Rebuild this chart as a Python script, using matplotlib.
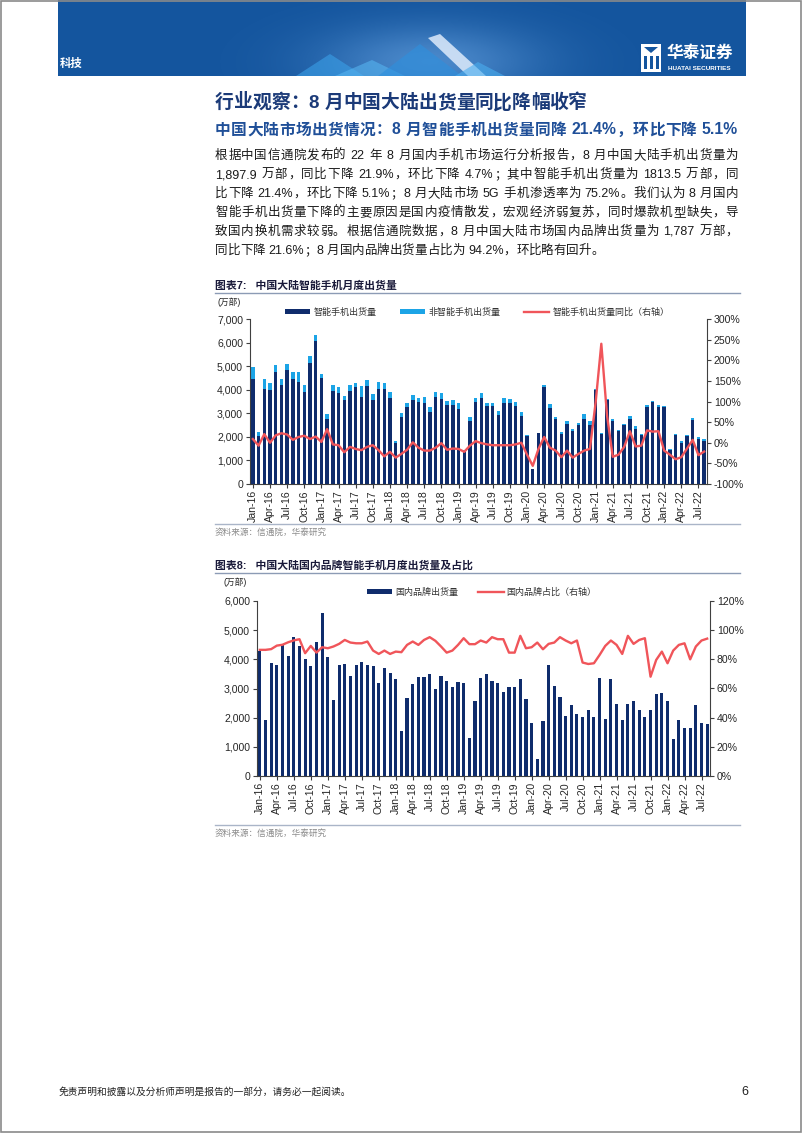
import re
import numpy as np
import pandas as pd
import matplotlib
matplotlib.use('Agg')
import matplotlib.pyplot as plt
from matplotlib.patches import Rectangle, Polygon
from matplotlib.ticker import FuncFormatter, FixedLocator

# ---------------- data ----------------
months = pd.date_range('2016-01-01', '2022-08-01', freq='MS').strftime('%b-%y').tolist()

smart_ship = [4470, 2050, 4050, 3980, 4750, 4200, 4820, 4450, 4320, 3900, 5150, 6050,
              4500, 2760, 3950, 3870, 3560, 3940, 4100, 3700, 4150, 3580, 4030, 4030,
              3630, 1760, 2830, 3260, 3580, 3470, 3440, 3070, 3680, 3610, 3340, 3370,
              3200, 1400, 2670, 3470, 3640, 3330, 3300, 2940, 3440, 3440, 3330, 2900,
              2020, 630, 2150, 4100, 3210, 2760, 2130, 2560, 2230, 2500, 2760, 2500,
              3980, 2130, 3570, 2690, 2260, 2500, 2760, 2350, 2080, 3270, 3490, 3260,
              3260, 1450, 2080, 1760, 2020, 2730, 1910, 1813.5]
nonsmart_ship = [480, 170, 420, 290, 280, 240, 270, 320, 450, 320, 290, 260,
                 180, 190, 250, 230, 170, 260, 200, 440, 260, 250, 290, 240,
                 270, 60, 190, 170, 200, 190, 260, 190, 220, 240, 200, 210,
                 230, 40, 170, 190, 210, 110, 130, 150, 190, 160, 150, 160,
                 60, 20, 30, 80, 180, 80, 90, 100, 90, 100, 190, 160,
                 30, 30, 40, 70, 40, 50, 110, 100, 50, 90, 40, 80,
                 40, 30, 50, 50, 60, 60, 80, 84.4]
smart_yoy = [9, -7, 21, 0, 18, 23, 20, 7, 14, 17, 9, 15,
             2, 33, -4, -6, -23, -10, -15, -18, -10, -6, -18, -33,
             -22, -36, -27, -17, 1, -12, -19, -19, -12, -1, -17, -14,
             -15, -22, -7, 4, -1, -4, -6, -6, -6, -6, -4, 0,
             -29, -56, -15, 14, -12, -19, -35, -19, -36, -27, -19, -15,
             97, 240, 66, -34, -29, -10, 28, -9, -7, 30, 27, 28,
             -19, -29, -40, -35, -14, 7, -30, -21.4]

domestic_ship = [4270, 1920, 3880, 3820, 4530, 4110, 4760, 4460, 4000, 3760, 4600, 5590,
                 4070, 2610, 3800, 3840, 3420, 3800, 3910, 3810, 3780, 3180, 3710, 3540,
                 3340, 1530, 2680, 3150, 3380, 3380, 3500, 3000, 3440, 3250, 3050, 3210,
                 3200, 1310, 2560, 3370, 3490, 3260, 3190, 2880, 3050, 3050, 3330, 2650,
                 1830, 570, 1870, 3800, 3080, 2720, 2060, 2420, 2140, 2010, 2260, 2040,
                 3360, 1950, 3340, 2470, 1920, 2470, 2580, 2280, 2020, 2270, 2800, 2830,
                 2560, 1270, 1920, 1640, 1660, 2430, 1820, 1787]
domestic_share = [86.5, 86.5, 87, 89.4, 90, 91.7, 93, 93.8, 84.2, 89.2, 84.6, 88.3,
                  87.6, 88.8, 90.6, 93.3, 91.5, 91, 91, 92.2, 86, 83.7, 86, 83.7,
                  85.3, 84.9, 89.9, 92.2, 89.9, 93.3, 95.2, 92.7, 88.8, 84.6, 86, 89.9,
                  94.5, 90.4, 90.4, 92.9, 91.5, 95.2, 93.8, 93.8, 84.6, 84.6, 96.1, 87.6,
                  88.3, 91.5, 86.9, 90.6, 91.5, 95.2, 92.9, 91, 92.9, 77.8, 76.8, 77.3,
                  83, 89.2, 92.9, 89.9, 83.7, 96.1, 90.6, 93.3, 94.5, 68.1, 79.6, 85.3,
                  77.3, 86, 89.9, 91, 80, 88.8, 92.9, 94.2]

left_ticks1 = [0, 1000, 2000, 3000, 4000, 5000, 6000, 7000]
right_ticks1 = [-100, -50, 0, 50, 100, 150, 200, 250, 300]
left_ticks2 = [0, 1000, 2000, 3000, 4000, 5000, 6000]
right_ticks2 = [0, 20, 40, 60, 80, 100, 120]

legend1 = ['智能手机出货量', '非智能手机出货量', '智能手机出货量同比（右轴）']
legend2 = ['国内品牌出货量', '国内品牌占比（右轴）']

title_main = '行业观察：8 月中国大陆出货量同比降幅收窄'
title_sub = '中国大陆市场出货情况：8 月智能手机出货量同降 21.4%，环比下降 5.1%'
body_lines = [
    '根据中国信通院发布的 22 年 8 月国内手机市场运行分析报告，8 月中国大陆手机出货量为',
    '1,897.9 万部，同比下降 21.9%，环比下降 4.7%；其中智能手机出货量为 1813.5 万部，同',
    '比下降 21.4%，环比下降 5.1%；8 月大陆市场 5G 手机渗透率为 75.2%。我们认为 8 月国内',
    '智能手机出货量下降的主要原因是国内疫情散发，宏观经济弱复苏，同时爆款机型缺失，导',
    '致国内换机需求较弱。根据信通院数据，8 月中国大陆市场国内品牌出货量为 1,787 万部，',
    '同比下降 21.6%；8 月国内品牌出货量占比为 94.2%，环比略有回升。',
]

# ---------------- style ----------------
W, H, DPI = 802, 1133, 100
FAM = ['Liberation Sans', 'Noto Sans CJK SC']
plt.rcParams['font.family'] = FAM
plt.rcParams['axes.unicode_minus'] = False
NAVY = '#0f2c6c'
LBLUE = '#1ca4e6'
RED = '#f0555a'
AXC = '#404040'
TXT = '#262626'

fig = plt.figure(figsize=(W / DPI, H / DPI), dpi=DPI)
fig.patch.set_facecolor('white')
bg = fig.add_axes([0, 0, 1, 1])
bg.axis('off')


def px_axes(x0, y0, x1, y1):
    return fig.add_axes([x0 / W, 1 - y1 / H, (x1 - x0) / W, (y1 - y0) / H])


# ---------------- header banner ----------------
BX0, BX1, BY1 = 58, 746, 76
bg.add_patch(Rectangle((BX0, 0), BX1 - BX0, BY1, facecolor='#14559e', edgecolor='none', zorder=1))
gx = np.linspace(BX0, BX1, 400)
gy = np.linspace(0, BY1, 60)
GX, GY = np.meshgrid(gx, gy)
rr = ((GX - 430) / 110) ** 2 + ((GY - 62) / 38) ** 2
glow = np.zeros((len(gy), len(gx), 4))
glow[..., 0] = 0.55
glow[..., 1] = 0.78
glow[..., 2] = 1.0
glow[..., 3] = 0.45 * np.exp(-rr)
bg.imshow(glow, extent=[BX0, BX1, BY1, 0], zorder=2, aspect='auto', interpolation='bilinear')
for pts, col, a in [
    ([(296, 76), (330, 54), (364, 76)], '#3aa0e8', 0.6),
    ([(335, 76), (372, 60), (405, 76)], '#56b4f0', 0.6),
    ([(378, 76), (420, 44), (462, 76)], '#2f8fdc', 0.65),
    ([(428, 38), (440, 34), (486, 76), (468, 76)], '#e8f2ff', 0.8),
    ([(455, 76), (478, 62), (505, 76)], '#4aaeef', 0.6),
]:
    bg.add_patch(Polygon(pts, closed=True, facecolor=col, edgecolor='none', alpha=a, zorder=3))
bg.text(60, 63, '科技', fontsize=8.2, color='white', weight='bold', va='center', ha='left', zorder=5)
# logo
bg.add_patch(Rectangle((641, 44), 20, 28, facecolor='white', edgecolor='none', zorder=5))
for xx in (644, 650, 656):
    bg.add_patch(Rectangle((xx, 56), 3, 13, facecolor='#14559e', edgecolor='none', zorder=6))
bg.add_patch(Polygon([(644, 47), (651, 53), (658, 47)], closed=True, facecolor='#14559e', zorder=6))
bg.text(667, 53, '华泰证券', fontsize=12, color='white', weight='bold', va='center', ha='left', zorder=5)
bg.text(668, 68, 'HUATAI SECURITIES', fontsize=4.6, color='white', weight='bold', va='center', ha='left', zorder=5)

# page frame
bg.add_patch(Rectangle((0.5, 0.5), W - 1.5, H - 1.5, facecolor='none', edgecolor='#8a8a8a', lw=1.2, zorder=10))

# ---------------- text blocks ----------------
renderer = fig.canvas.get_renderer()


def draw_line(s, x0, y, size, color, weight='normal', x1=None, style='normal'):
    toks = re.findall(r'[0-9A-Za-z.,%]+| +|.', s)
    items = []
    for t in toks:
        if t.strip() == '':
            items.append((None, size * 100 / 72 * 0.28))
        else:
            tx = bg.text(0, y, t, fontsize=size, color=color, weight=weight, style=style,
                         va='center', ha='left', zorder=5)
            items.append((tx, tx.get_window_extent(renderer).width))
    total = sum(w for _, w in items)
    extra = 0.0
    if x1 is not None and len(items) > 1:
        extra = (x1 - x0 - total) / (len(items) - 1)
    x = x0
    for tx, w in items:
        if tx is not None:
            tx.set_x(x)
        x += w + extra


bg.set_xlim(0, W)
bg.set_ylim(H, 0)

draw_line(title_main, 215, 103, 13.5, '#1b3a78', weight='bold')
draw_line(title_sub, 215, 130, 11.3, '#1f4f98', weight='bold', x1=738)
body_y0, body_dy = 156, 19.0
for i, ln in enumerate(body_lines):
    draw_line(ln, 215, body_y0 + i * body_dy, 9.0, '#1a1a1a',
              x1=(738 if i < len(body_lines) - 1 else None))


def chart_frame(title, ty, src_y):
    bg.text(215, ty, title, fontsize=7.8, color='#1a1a3a', weight='bold', va='center', ha='left', zorder=5)
    bg.plot([215, 740], [ty + 8, ty + 8], color='#8c9bb5', lw=1.0, zorder=5)
    bg.plot([215, 740], [src_y - 8, src_y - 8], color='#aab5c8', lw=1.0, zorder=5)
    bg.text(215, src_y, '资料来源：信通院，华泰研究', fontsize=6.2, color='#8c8c8c', va='center', ha='left', zorder=5)


chart_frame('图表7:   中国大陆智能手机月度出货量', 285, 532)
chart_frame('图表8:   中国大陆国内品牌智能手机月度出货量及占比', 565, 833)
bg.text(217, 302, '(万部)', fontsize=6.3, color=TXT, va='center', ha='left')
bg.text(224, 582, '(万部)', fontsize=6.3, color=TXT, va='center', ha='left')

# footer
bg.text(59, 1092, '免责声明和披露以及分析师声明是报告的一部分，请务必一起阅读。', fontsize=7, style='italic',
        color='#222222', va='center', ha='left')
bg.text(741, 1092, '6', fontsize=9, color='#222222', va='center', ha='left')

bg.set_xlim(0, W)
bg.set_ylim(H, 0)


def style_axes(ax, axr, xpos):
    for a in (ax, axr):
        a.set_facecolor('none')
        a.spines['top'].set_visible(False)
    ax.spines['right'].set_visible(False)
    axr.spines['left'].set_visible(False)
    axr.spines['bottom'].set_visible(False)
    for sp in ('left', 'bottom'):
        ax.spines[sp].set_color(AXC)
        ax.spines[sp].set_linewidth(0.8)
    axr.spines['right'].set_color(AXC)
    axr.spines['right'].set_linewidth(0.8)
    ax.set_xlim(-0.5, len(xpos) - 0.5)
    ax.xaxis.set_major_locator(FixedLocator(xpos[::3]))
    ax.set_xticklabels(months[::3], rotation=90, fontsize=7.6, color=TXT)
    ax.tick_params(axis='x', length=3, width=0.8, color=AXC, pad=1.5)
    ax.tick_params(axis='y', length=3, width=0.8, color=AXC, pad=2, labelsize=7.6, labelcolor=TXT)
    axr.tick_params(axis='y', length=3, width=0.8, color=AXC, pad=2, labelsize=7.6, labelcolor=TXT)
    ax.yaxis.set_major_formatter(FuncFormatter(lambda v, p: f'{int(v):,}'))
    axr.yaxis.set_major_formatter(FuncFormatter(lambda v, p: f'{int(v)}%'))


# ---------------- chart 7 ----------------
x = np.arange(len(months))
ax1 = px_axes(250, 319, 707, 484)
b1 = ax1.bar(x, smart_ship, width=0.6, color=NAVY, zorder=2)
b2 = ax1.bar(x, nonsmart_ship, bottom=smart_ship, width=0.6, color=LBLUE, zorder=2)
ax1.set_ylim(0, 7000)
ax1.set_yticks(left_ticks1)
ax1r = ax1.twinx()
l1, = ax1r.plot(x, smart_yoy, color=RED, lw=1.7, zorder=3)
ax1r.set_ylim(-100, 300)
ax1r.set_yticks(right_ticks1)
style_axes(ax1, ax1r, x)
ax1r.legend([b1, b2, l1], legend1, ncol=3, frameon=False, loc='center left',
            bbox_to_anchor=(285 / W, 1 - 312 / H), bbox_transform=fig.transFigure,
            fontsize=6.5, handlelength=2.8, handleheight=0.55, handletextpad=0.35,
            columnspacing=2.6, borderpad=0, borderaxespad=0, labelcolor='#333333')

# ---------------- chart 8 ----------------
ax2 = px_axes(257, 601, 710, 776)
b3 = ax2.bar(x, domestic_ship, width=0.55, color=NAVY, zorder=2)
ax2.set_ylim(0, 6000)
ax2.set_yticks(left_ticks2)
ax2r = ax2.twinx()
l2, = ax2r.plot(x, domestic_share, color=RED, lw=1.7, zorder=3)
ax2r.set_ylim(0, 120)
ax2r.set_yticks(right_ticks2)
style_axes(ax2, ax2r, x)
ax2r.legend([b3, l2], legend2, ncol=2, frameon=False, loc='center left',
            bbox_to_anchor=(367 / W, 1 - 592 / H), bbox_transform=fig.transFigure,
            fontsize=6.5, handlelength=2.8, handleheight=0.55, handletextpad=0.35,
            columnspacing=2.2, borderpad=0, borderaxespad=0, labelcolor='#333333')

fig.savefig('out.png', dpi=DPI)
